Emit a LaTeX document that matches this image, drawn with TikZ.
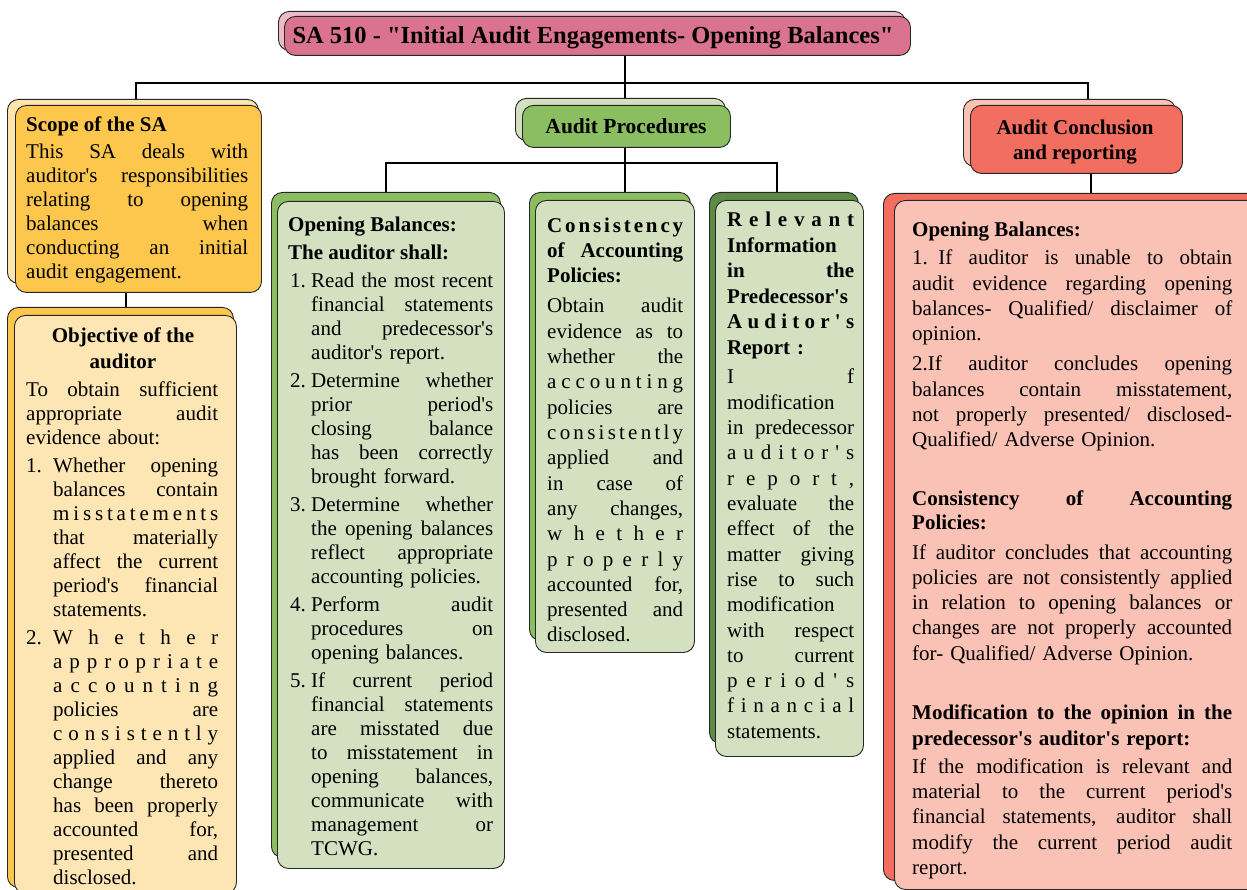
\documentclass[tikz,border=0pt]{standalone}
\usepackage{fontspec}
\setmainfont{Liberation Serif}[Ligatures=TeXOff]
\usetikzlibrary{backgrounds}
\definecolor{pinkF}{HTML}{D9738F}
\definecolor{pinkB}{HTML}{EEBBC8}
\definecolor{yelF}{HTML}{FDC74D}
\definecolor{yelL}{HTML}{FEE5AE}
\definecolor{yelO}{HTML}{FDE6B3}
\definecolor{grnF}{HTML}{8BBD61}
\definecolor{grnL}{HTML}{D3E1C1}
\definecolor{grnD}{HTML}{5D8B45}
\definecolor{redF}{HTML}{F26E60}
\definecolor{redL}{HTML}{FAC1B5}
\newlength{\xind}
\newcommand{\xsp}{\spaceskip=\fontdimen2\font plus 1fil\relax}
\newcommand{\xlsp}{\spaceskip=0pt plus 1fil\relax}
\newcommand{\xJ}[1]{{\xsp\noindent\hbox to\linewidth{#1}\par}}
\newcommand{\xL}[1]{\noindent #1\par}
\newcommand{\xNJ}[2]{{\xsp\noindent\hbox to\linewidth{\hbox to\xind{#1\hss}#2}\par}}
\newcommand{\xNL}[2]{\noindent\hbox to\xind{#1\hss}#2\par}
\newcommand{\xIJ}[1]{{\xsp\noindent\hbox to\linewidth{\hskip\xind\relax #1}\par}}
\newcommand{\xIL}[1]{\noindent\hskip\xind\relax #1\par}
\newcommand{\xS}[1]{{\xlsp\noindent\hbox to\linewidth{#1}\par}}
\newcommand{\xIS}[1]{{\xlsp\noindent\hbox to\linewidth{\hskip\xind\relax #1}\par}}
\newcommand{\xNS}[2]{{\xlsp\noindent\hbox to\linewidth{\hbox to\xind{#1\hss}#2}\par}}
\tikzset{
  bx/.style={draw=black!85, line width=0.9pt, rounded corners=11pt, inner sep=0pt, anchor=north west},
  txt/.style={inner sep=0pt, anchor=base west},
  ln/.style={draw=black, line width=1.1pt},
}
\begin{document}
\begin{tikzpicture}[x=1pt,y=-1pt]
\useasboundingbox (0,0) rectangle (1247,890);
% ---------- boxes ----------
\node[bx, fill=pinkB, minimum width=627pt, minimum height=39pt] (titleB) at (278,11) {};
\node[bx, fill=pinkF, minimum width=626pt, minimum height=39pt] (title) at (284,16) {};
\node[bx, fill=yelL, minimum width=251pt, minimum height=184pt] (scopeB) at (7,99) {};
\node[bx, fill=yelF, minimum width=246pt, minimum height=187pt] (scope) at (15,105) {};
\node[bx, fill=yelF, minimum width=226pt, minimum height=580pt] (objB) at (7,307) {};
\node[bx, fill=yelO, minimum width=222pt, minimum height=578pt] (obj) at (14,315) {};
\node[bx, fill=grnL, minimum width=210pt, minimum height=42pt] (apB) at (515,98) {};
\node[bx, fill=grnF, minimum width=208pt, minimum height=42pt] (ap) at (522,105) {};
\node[bx, fill=grnF, minimum width=229pt, minimum height=665pt] (openB) at (271,192) {};
\node[bx, fill=grnL, minimum width=227pt, minimum height=667pt] (open) at (277,201) {};
\node[bx, fill=grnF, minimum width=161pt, minimum height=448pt] (consB) at (529,192) {};
\node[bx, fill=grnL, minimum width=159pt, minimum height=452pt] (cons) at (535,200) {};
\node[bx, fill=grnD, minimum width=149pt, minimum height=551pt] (relB) at (709,192) {};
\node[bx, fill=grnL, minimum width=148pt, minimum height=556pt] (rel) at (715,200) {};
\node[bx, fill=redL, minimum width=212pt, minimum height=67pt] (conclB) at (963,99) {};
\node[bx, fill=redF, minimum width=212pt, minimum height=68pt] (concl) at (970,105) {};
\node[bx, fill=redF, minimum width=380pt, minimum height=687pt] (redB) at (883,193) {};
\node[bx, fill=redL, minimum width=380pt, minimum height=689pt] (red) at (894,200) {};
% ---------- texts ----------
\node[inner sep=0pt, anchor=base, font=\fontsize{24.5}{28}\selectfont\bfseries] (titletext) at (593,44) {SA 510 - "Initial Audit Engagements- Opening Balances"};
\node[inner sep=0pt, anchor=base, font=\fontsize{21.5}{26}\selectfont\bfseries] (aptext) at (626,134) {Audit Procedures};
\node[inner sep=0pt, anchor=base, font=\fontsize{21}{26}\selectfont\bfseries] (concltext1) at (1075,135) {Audit Conclusion};
\node[inner sep=0pt, anchor=base, font=\fontsize{21}{26}\selectfont\bfseries] (concltext2) at (1075,160) {and reporting};
% scope
\node[txt, font=\fontsize{21}{24}\selectfont\bfseries] (scopeh) at (26,132) {Scope of the SA};
\node[txt, text width=222pt, font=\fontsize{21}{24}\selectfont] (scopet) at (26,159) {%
\xJ{This SA deals with}\xJ{auditor's responsibilities}\xJ{relating to opening}\xJ{balances when}\xJ{conducting an initial}\xL{audit engagement.}};
% objective
\node[inner sep=0pt, anchor=base, font=\fontsize{21}{24}\selectfont\bfseries] (objh1) at (123,343) {Objective of the};
\node[inner sep=0pt, anchor=base, font=\fontsize{21}{24}\selectfont\bfseries] (objh2) at (123,369) {auditor};
\node[txt, text width=192pt, font=\fontsize{21}{24}\selectfont] (objt) at (26,396) {\setlength{\xind}{27pt}%
\xJ{To obtain sufficient}\xJ{appropriate audit}\xL{evidence about:}\vspace{4pt}%
\xNJ{1.}{Whether opening}\xIJ{balances contain}\xIS{m i s s t a t e m e n t s}\xIJ{that materially}\xIJ{affect the current}\xIJ{period's financial}\xIL{statements.}\vspace{4pt}%
\xNS{2.}{W h e t h e r}\xIS{a p p r o p r i a t e}\xIS{a c c o u n t i n g}\xIJ{policies are}\xIS{c o n s i s t e n t l y}\xIJ{applied and any}\xIJ{change thereto}\xIJ{has been properly}\xIJ{accounted for,}\xIJ{presented and}\xIL{disclosed.}};
% opening balances
\node[txt, font=\fontsize{21}{24}\selectfont\bfseries] (openh1) at (288,232) {Opening Balances:};
\node[txt, font=\fontsize{21}{24}\selectfont\bfseries] (openh2) at (288,260) {The auditor shall:};
\node[txt, text width=203pt, font=\fontsize{21}{24}\selectfont] (opent) at (290,288) {\setlength{\xind}{21pt}%
\xNJ{1.}{Read the most recent}\xIJ{financial statements}\xIJ{and predecessor's}\xIL{auditor's report.}\vspace{3.5pt}%
\xNJ{2.}{Determine whether}\xIJ{prior period's}\xIJ{closing balance}\xIJ{has been correctly}\xIL{brought forward.}\vspace{4pt}%
\xNJ{3.}{Determine whether}\xIJ{the opening balances}\xIJ{reflect appropriate}\xIL{accounting policies.}\vspace{4pt}%
\xNJ{4.}{Perform audit}\xIJ{procedures on}\xIL{opening balances.}\vspace{4pt}%
\xNJ{5.}{If current period}\xIJ{financial statements}\xIJ{are misstated due}\xIJ{to misstatement in}\xIJ{opening balances,}\xIJ{communicate with}\xIJ{management or}\xIL{TCWG.}};
% consistency
\node[txt, text width=136pt, font=\fontsize{21}{25}\selectfont\bfseries] (consh) at (547,233) {%
\xS{C o n s i s t e n c y}\xJ{of Accounting}\xL{Policies:}};
\node[txt, text width=136pt, font=\fontsize{21}{25.3}\selectfont] (const) at (547,313) {%
\xJ{Obtain audit}\xJ{evidence as to}\xJ{whether the}\xS{a c c o u n t i n g}\xJ{policies are}\xS{c o n s i s t e n t l y}\xJ{applied and}\xJ{in case of}\xJ{any changes,}\xS{w h e t h e r}\xS{p r o p e r l y}\xJ{accounted for,}\xJ{presented and}\xL{disclosed.}};
% relevant
\node[txt, text width=127pt, font=\fontsize{21}{25.5}\selectfont\bfseries] (relh) at (727,227) {%
\xS{R e l e v a n t}\xJ{Information}\xJ{in the}\xJ{Predecessor's}\xS{A u d i t o r ' s}\xL{Report :}};
\node[txt, text width=127pt, font=\fontsize{21}{25.3}\selectfont] (relt) at (727,384) {%
\xJ{I f}\xJ{modification}\xJ{in predecessor}\xS{a u d i t o r ' s}\xS{r e p o r t ,}\xJ{evaluate the}\xJ{effect of the}\xJ{matter giving}\xJ{rise to such}\xJ{modification}\xJ{with respect}\xJ{to current}\xS{p e r i o d ' s}\xS{f i n a n c i a l}\xL{statements.}};
% red box
\node[txt, font=\fontsize{21}{24}\selectfont\bfseries] (r1) at (912,237) {Opening Balances:};
\node[txt, text width=320pt, font=\fontsize{21}{25.3}\selectfont] (r2) at (912,265) {%
\xJ{1. If auditor is unable to obtain}\xJ{audit evidence regarding opening}\xJ{balances- Qualified/ disclaimer of}\xL{opinion.}\vspace{4.7pt}%
\xJ{2.If auditor concludes opening}\xJ{balances contain misstatement,}\xJ{not properly presented/ disclosed-}\xL{Qualified/ Adverse Opinion.}};
\node[txt, text width=320pt, font=\fontsize{21}{24.5}\selectfont\bfseries] (r3) at (912,505) {%
\xJ{Consistency of Accounting}\xL{Policies:}};
\node[txt, text width=320pt, font=\fontsize{21}{25.3}\selectfont] (r4) at (912,559) {%
\xJ{If auditor concludes that accounting}\xJ{policies are not consistently applied}\xJ{in relation to opening balances or}\xJ{changes are not properly accounted}\xL{for- Qualified/ Adverse Opinion.}};
\node[txt, text width=320pt, font=\fontsize{21}{26}\selectfont\bfseries] (r5) at (912,719) {%
\xJ{Modification to the opinion in the}\xL{predecessor's auditor's report:}};
\node[txt, text width=320pt, font=\fontsize{21}{25.4}\selectfont] (r6) at (912,773) {%
\xJ{If the modification is relevant and}\xJ{material to the current period's}\xJ{financial statements, auditor shall}\xJ{modify the current period audit}\xL{report.}};
% ---------- connectors ----------
\coordinate (bus1L) at (136,83);
\coordinate (bus1R) at (1088,83);
\coordinate (sox) at (126,300);
\coordinate (bus2L) at (386,163);
\coordinate (bus2M) at (625,163);
\coordinate (bus2R) at (777,163);
\coordinate (crx) at (1091,180);
\begin{pgfonlayer}{background}
\fill[white] (0,0) rectangle (1247,890);
\draw[ln] (title.south -| bus2M) -- (ap.north -| bus2M);
\draw[ln] (bus1L |- scope.north) -- (bus1L) -- (bus1R) -- (bus1R |- concl.north);
\draw[ln] (scope.south -| sox) -- (obj.north -| sox);
\draw[ln] (ap.south -| bus2M) -- (bus2M) -- (bus2M |- cons.north);
\draw[ln] (bus2L |- open.north) -- (bus2L) -- (bus2R) -- (bus2R |- rel.north);
\draw[ln] (concl.south -| crx) -- (red.north -| crx);
\end{pgfonlayer}
\end{tikzpicture}
\end{document}
